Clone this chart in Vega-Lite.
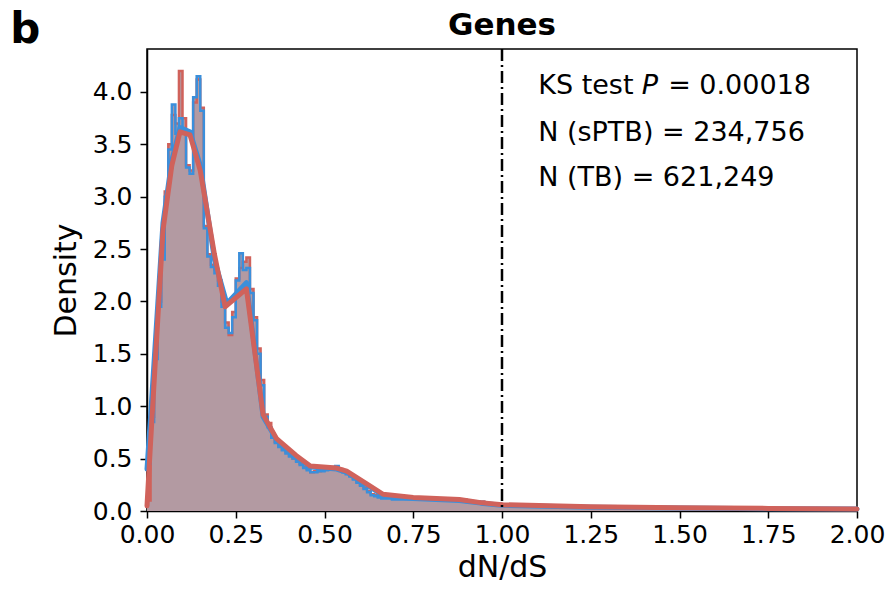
{
  "$schema": "https://vega.github.io/schema/vega-lite/v6.json",
  "autosize": "none",
  "width": 710,
  "height": 462,
  "padding": {"left": 147, "top": 49, "right": 31, "bottom": 79},
  "background": "white",
  "config": {
    "font": "DejaVu Sans",
    "view": {"stroke": "black", "strokeWidth": 1.5},
    "axis": {"grid": false, "labelFontSize": 25, "titleFontSize": 30, "titleFontWeight": "normal", "labelColor": "black", "titleColor": "black", "domainColor": "black", "tickColor": "black", "domainWidth": 1.5, "tickWidth": 1.5, "tickSize": 7, "labelFont": "DejaVu Sans", "titleFont": "DejaVu Sans", "labelFlush": false, "labelOverlap": false}
  },
  "datasets": {
    "hist": [
      {"x":0.00,"s":"TB","d":0.1},{"x":0.01,"s":"TB","d":0.9},{"x":0.02,"s":"TB","d":1.5},{"x":0.03,"s":"TB","d":2.0},{"x":0.04,"s":"TB","d":2.45},{"x":0.05,"s":"TB","d":3.05},{"x":0.06,"s":"TB","d":3.5},{"x":0.07,"s":"TB","d":3.78},{"x":0.08,"s":"TB","d":3.7},{"x":0.09,"s":"TB","d":4.2},
      {"x":0.10,"s":"TB","d":3.75},{"x":0.11,"s":"TB","d":3.3},{"x":0.12,"s":"TB","d":3.25},{"x":0.13,"s":"TB","d":3.9},{"x":0.14,"s":"TB","d":4.12},{"x":0.15,"s":"TB","d":3.85},{"x":0.16,"s":"TB","d":2.72},{"x":0.17,"s":"TB","d":2.45},{"x":0.18,"s":"TB","d":2.35},{"x":0.19,"s":"TB","d":2.3},
      {"x":0.20,"s":"TB","d":2.2},{"x":0.21,"s":"TB","d":2.0},{"x":0.22,"s":"TB","d":1.8},{"x":0.23,"s":"TB","d":1.68},{"x":0.24,"s":"TB","d":1.9},{"x":0.25,"s":"TB","d":2.22},{"x":0.26,"s":"TB","d":2.32},{"x":0.27,"s":"TB","d":2.38},{"x":0.28,"s":"TB","d":2.42},{"x":0.29,"s":"TB","d":2.12},
      {"x":0.30,"s":"TB","d":1.85},{"x":0.31,"s":"TB","d":1.55},{"x":0.32,"s":"TB","d":1.25},{"x":0.33,"s":"TB","d":0.92},{"x":0.34,"s":"TB","d":0.84},{"x":0.35,"s":"TB","d":0.72},{"x":0.36,"s":"TB","d":0.66},{"x":0.37,"s":"TB","d":0.62},{"x":0.38,"s":"TB","d":0.59},{"x":0.39,"s":"TB","d":0.56},
      {"x":0.40,"s":"TB","d":0.53},{"x":0.41,"s":"TB","d":0.5},{"x":0.42,"s":"TB","d":0.48},{"x":0.43,"s":"TB","d":0.45},{"x":0.44,"s":"TB","d":0.42},{"x":0.45,"s":"TB","d":0.4},{"x":0.46,"s":"TB","d":0.37},{"x":0.47,"s":"TB","d":0.38},{"x":0.48,"s":"TB","d":0.38},{"x":0.49,"s":"TB","d":0.39},
      {"x":0.50,"s":"TB","d":0.4},{"x":0.51,"s":"TB","d":0.4},{"x":0.52,"s":"TB","d":0.41},{"x":0.53,"s":"TB","d":0.41},{"x":0.54,"s":"TB","d":0.4},{"x":0.55,"s":"TB","d":0.39},{"x":0.56,"s":"TB","d":0.37},{"x":0.57,"s":"TB","d":0.34},{"x":0.58,"s":"TB","d":0.31},{"x":0.59,"s":"TB","d":0.28},
      {"x":0.60,"s":"TB","d":0.25},{"x":0.61,"s":"TB","d":0.22},{"x":0.62,"s":"TB","d":0.19},{"x":0.63,"s":"TB","d":0.16},{"x":0.64,"s":"TB","d":0.15},{"x":0.65,"s":"TB","d":0.14},{"x":0.66,"s":"TB","d":0.13},{"x":0.67,"s":"TB","d":0.13},{"x":0.68,"s":"TB","d":0.13},{"x":0.69,"s":"TB","d":0.12},
      {"x":0.70,"s":"TB","d":0.12},{"x":0.75,"s":"TB","d":0.12},{"x":0.80,"s":"TB","d":0.12},{"x":0.85,"s":"TB","d":0.11},{"x":0.90,"s":"TB","d":0.09},{"x":0.95,"s":"TB","d":0.07},{"x":1.00,"s":"TB","d":0.055},{"x":1.05,"s":"TB","d":0.05},{"x":1.10,"s":"TB","d":0.045},{"x":1.15,"s":"TB","d":0.042},
      {"x":1.20,"s":"TB","d":0.04},{"x":1.25,"s":"TB","d":0.038},{"x":1.30,"s":"TB","d":0.035},{"x":1.35,"s":"TB","d":0.033},{"x":1.40,"s":"TB","d":0.031},{"x":1.45,"s":"TB","d":0.03},{"x":1.50,"s":"TB","d":0.029},{"x":1.55,"s":"TB","d":0.028},{"x":1.60,"s":"TB","d":0.027},{"x":1.65,"s":"TB","d":0.026},
      {"x":1.70,"s":"TB","d":0.025},{"x":1.75,"s":"TB","d":0.024},{"x":1.80,"s":"TB","d":0.023},{"x":1.85,"s":"TB","d":0.022},{"x":1.90,"s":"TB","d":0.021},{"x":1.95,"s":"TB","d":0.02},{"x":2.00,"s":"TB","d":0.02},
      {"x":0.00,"s":"sPTB","d":0.45},{"x":0.01,"s":"sPTB","d":0.85},{"x":0.02,"s":"sPTB","d":1.45},{"x":0.03,"s":"sPTB","d":1.95},{"x":0.04,"s":"sPTB","d":2.4},{"x":0.05,"s":"sPTB","d":3.0},{"x":0.06,"s":"sPTB","d":3.45},{"x":0.07,"s":"sPTB","d":3.88},{"x":0.08,"s":"sPTB","d":3.6},{"x":0.09,"s":"sPTB","d":3.75},
      {"x":0.10,"s":"sPTB","d":3.6},{"x":0.11,"s":"sPTB","d":3.28},{"x":0.12,"s":"sPTB","d":3.22},{"x":0.13,"s":"sPTB","d":3.95},{"x":0.14,"s":"sPTB","d":4.15},{"x":0.15,"s":"sPTB","d":3.82},{"x":0.16,"s":"sPTB","d":2.7},{"x":0.17,"s":"sPTB","d":2.43},{"x":0.18,"s":"sPTB","d":2.33},{"x":0.19,"s":"sPTB","d":2.27},
      {"x":0.20,"s":"sPTB","d":2.15},{"x":0.21,"s":"sPTB","d":1.95},{"x":0.22,"s":"sPTB","d":1.75},{"x":0.23,"s":"sPTB","d":1.7},{"x":0.24,"s":"sPTB","d":1.85},{"x":0.25,"s":"sPTB","d":2.2},{"x":0.26,"s":"sPTB","d":2.46},{"x":0.27,"s":"sPTB","d":2.3},{"x":0.28,"s":"sPTB","d":2.32},{"x":0.29,"s":"sPTB","d":2.08},
      {"x":0.30,"s":"sPTB","d":1.82},{"x":0.31,"s":"sPTB","d":1.5},{"x":0.32,"s":"sPTB","d":1.2},{"x":0.33,"s":"sPTB","d":0.9},{"x":0.34,"s":"sPTB","d":0.8},{"x":0.35,"s":"sPTB","d":0.7},{"x":0.36,"s":"sPTB","d":0.65},{"x":0.37,"s":"sPTB","d":0.61},{"x":0.38,"s":"sPTB","d":0.58},{"x":0.39,"s":"sPTB","d":0.55},
      {"x":0.40,"s":"sPTB","d":0.52},{"x":0.41,"s":"sPTB","d":0.5},{"x":0.42,"s":"sPTB","d":0.47},{"x":0.43,"s":"sPTB","d":0.44},{"x":0.44,"s":"sPTB","d":0.41},{"x":0.45,"s":"sPTB","d":0.39},{"x":0.46,"s":"sPTB","d":0.37},{"x":0.47,"s":"sPTB","d":0.37},{"x":0.48,"s":"sPTB","d":0.38},{"x":0.49,"s":"sPTB","d":0.38},
      {"x":0.50,"s":"sPTB","d":0.39},{"x":0.51,"s":"sPTB","d":0.4},{"x":0.52,"s":"sPTB","d":0.42},{"x":0.53,"s":"sPTB","d":0.43},{"x":0.54,"s":"sPTB","d":0.39},{"x":0.55,"s":"sPTB","d":0.37},{"x":0.56,"s":"sPTB","d":0.35},{"x":0.57,"s":"sPTB","d":0.33},{"x":0.58,"s":"sPTB","d":0.3},{"x":0.59,"s":"sPTB","d":0.27},
      {"x":0.60,"s":"sPTB","d":0.24},{"x":0.61,"s":"sPTB","d":0.21},{"x":0.62,"s":"sPTB","d":0.18},{"x":0.63,"s":"sPTB","d":0.15},{"x":0.64,"s":"sPTB","d":0.14},{"x":0.65,"s":"sPTB","d":0.13},{"x":0.66,"s":"sPTB","d":0.12},{"x":0.67,"s":"sPTB","d":0.12},{"x":0.68,"s":"sPTB","d":0.12},{"x":0.69,"s":"sPTB","d":0.11},
      {"x":0.70,"s":"sPTB","d":0.11},{"x":0.75,"s":"sPTB","d":0.11},{"x":0.80,"s":"sPTB","d":0.11},{"x":0.85,"s":"sPTB","d":0.1},{"x":0.90,"s":"sPTB","d":0.085},{"x":0.95,"s":"sPTB","d":0.065},{"x":1.00,"s":"sPTB","d":0.05},{"x":1.05,"s":"sPTB","d":0.047},{"x":1.10,"s":"sPTB","d":0.043},{"x":1.15,"s":"sPTB","d":0.04},
      {"x":1.20,"s":"sPTB","d":0.038},{"x":1.25,"s":"sPTB","d":0.036},{"x":1.30,"s":"sPTB","d":0.034},{"x":1.35,"s":"sPTB","d":0.032},{"x":1.40,"s":"sPTB","d":0.03},{"x":1.45,"s":"sPTB","d":0.029},{"x":1.50,"s":"sPTB","d":0.028},{"x":1.55,"s":"sPTB","d":0.027},{"x":1.60,"s":"sPTB","d":0.026},{"x":1.65,"s":"sPTB","d":0.025},
      {"x":1.70,"s":"sPTB","d":0.024},{"x":1.75,"s":"sPTB","d":0.023},{"x":1.80,"s":"sPTB","d":0.022},{"x":1.85,"s":"sPTB","d":0.021},{"x":1.90,"s":"sPTB","d":0.02},{"x":1.95,"s":"sPTB","d":0.019},{"x":2.00,"s":"sPTB","d":0.019}
    ],
    "kde": [
      {"x":0,"s":"sPTB","d":0.4},{"x":0.01,"s":"sPTB","d":0.9},{"x":0.045,"s":"sPTB","d":2.75},{"x":0.07,"s":"sPTB","d":3.35},{"x":0.093,"s":"sPTB","d":3.66},{"x":0.121,"s":"sPTB","d":3.62},{"x":0.15,"s":"sPTB","d":3.3},{"x":0.19,"s":"sPTB","d":2.4},{"x":0.225,"s":"sPTB","d":1.98},{"x":0.28,"s":"sPTB","d":2.18},{"x":0.327,"s":"sPTB","d":0.9},{"x":0.365,"s":"sPTB","d":0.68},{"x":0.42,"s":"sPTB","d":0.52},{"x":0.46,"s":"sPTB","d":0.42},{"x":0.534,"s":"sPTB","d":0.4},{"x":0.5625,"s":"sPTB","d":0.37},{"x":0.619,"s":"sPTB","d":0.25},{"x":0.665,"s":"sPTB","d":0.15},{"x":0.75,"s":"sPTB","d":0.12},{"x":0.88,"s":"sPTB","d":0.1},{"x":0.94,"s":"sPTB","d":0.075},{"x":1.0,"s":"sPTB","d":0.055},{"x":1.25,"s":"sPTB","d":0.035},{"x":1.5,"s":"sPTB","d":0.028},{"x":1.75,"s":"sPTB","d":0.022},{"x":2.0,"s":"sPTB","d":0.018},
      {"x":0,"s":"TB","d":0.05},{"x":0.01,"s":"TB","d":0.65},{"x":0.045,"s":"TB","d":2.68},{"x":0.07,"s":"TB","d":3.3},{"x":0.093,"s":"TB","d":3.62},{"x":0.121,"s":"TB","d":3.59},{"x":0.15,"s":"TB","d":3.25},{"x":0.19,"s":"TB","d":2.45},{"x":0.22,"s":"TB","d":1.95},{"x":0.28,"s":"TB","d":2.12},{"x":0.327,"s":"TB","d":0.92},{"x":0.365,"s":"TB","d":0.69},{"x":0.42,"s":"TB","d":0.53},{"x":0.46,"s":"TB","d":0.43},{"x":0.534,"s":"TB","d":0.41},{"x":0.5625,"s":"TB","d":0.38},{"x":0.619,"s":"TB","d":0.26},{"x":0.665,"s":"TB","d":0.16},{"x":0.75,"s":"TB","d":0.13},{"x":0.88,"s":"TB","d":0.11},{"x":0.94,"s":"TB","d":0.08},{"x":1.0,"s":"TB","d":0.06},{"x":1.25,"s":"TB","d":0.04},{"x":1.5,"s":"TB","d":0.03},{"x":1.75,"s":"TB","d":0.025},{"x":2.0,"s":"TB","d":0.02}
    ],
    "one": [{}]
  },
  "layer": [
    {
      "data": {"name": "hist"},
      "mark": {"type": "area", "interpolate": "step-after", "color": "#b39aa2", "opacity": 1},
      "encoding": {
        "x": {"field": "x", "type": "quantitative", "scale": {"domain": [0, 2], "nice": false, "zero": false}, "axis": {"values": [0, 0.25, 0.5, 0.75, 1, 1.25, 1.5, 1.75, 2], "format": ".2f", "title": "dN/dS", "labelPadding": 4, "titlePadding": 5}},
        "y": {"field": "d", "type": "quantitative", "stack": null, "scale": {"domain": [0, 4.41], "nice": false}, "axis": {"values": [0, 0.5, 1, 1.5, 2, 2.5, 3, 3.5, 4], "format": ".1f", "title": "Density", "labelPadding": 8, "titlePadding": 11}},
        "detail": {"field": "s"}
      }
    },
    {
      "data": {"name": "hist"},
      "mark": {"type": "line", "interpolate": "step-after", "strokeWidth": 2.5},
      "encoding": {
        "x": {"field": "x", "type": "quantitative", "scale": {"domain": [0, 2], "nice": false, "zero": false}},
        "y": {"field": "d", "type": "quantitative", "scale": {"domain": [0, 4.41], "nice": false}},
        "color": {"field": "s", "type": "nominal", "scale": {"domain": ["sPTB", "TB"], "range": ["#3b8fdb", "#d0625b"]}, "legend": null},
        "order": {"field": "x", "type": "quantitative"}
      }
    },
    {
      "data": {"name": "kde"},
      "mark": {"type": "line", "strokeWidth": 5, "strokeJoin": "round", "strokeCap": "round"},
      "encoding": {
        "x": {"field": "x", "type": "quantitative", "scale": {"domain": [0, 2], "nice": false, "zero": false}},
        "y": {"field": "d", "type": "quantitative", "scale": {"domain": [0, 4.41], "nice": false}},
        "color": {"field": "s", "type": "nominal", "scale": {"domain": ["sPTB", "TB"], "range": ["#3b8fdb", "#d0625b"]}, "legend": null}
      }
    },
    {
      "data": {"name": "one"},
      "mark": {"type": "rule", "color": "black", "strokeWidth": 2.5, "strokeDash": [12, 4, 2, 4]},
      "encoding": {"x": {"datum": 1, "type": "quantitative", "scale": {"domain": [0, 2], "nice": false, "zero": false}}}
    },
    {
      "data": {"name": "one"},
      "mark": {"type": "text", "text": "KS test", "align": "left", "baseline": "middle", "fontSize": 27, "color": "black"},
      "encoding": {"x": {"datum": 1.102, "type": "quantitative", "scale": {"domain": [0, 2], "nice": false, "zero": false}}, "y": {"datum": 4.057, "type": "quantitative", "scale": {"domain": [0, 4.41], "nice": false}}}
    },
    {
      "data": {"name": "one"},
      "mark": {"type": "text", "text": "P", "align": "left", "baseline": "middle", "fontSize": 27, "fontStyle": "italic", "color": "black"},
      "encoding": {"x": {"datum": 1.394, "type": "quantitative", "scale": {"domain": [0, 2], "nice": false, "zero": false}}, "y": {"datum": 4.057, "type": "quantitative", "scale": {"domain": [0, 4.41], "nice": false}}}
    },
    {
      "data": {"name": "one"},
      "mark": {"type": "text", "text": "= 0.00018", "align": "left", "baseline": "middle", "fontSize": 27, "color": "black"},
      "encoding": {"x": {"datum": 1.468, "type": "quantitative", "scale": {"domain": [0, 2], "nice": false, "zero": false}}, "y": {"datum": 4.057, "type": "quantitative", "scale": {"domain": [0, 4.41], "nice": false}}}
    },
    {
      "data": {"name": "one"},
      "mark": {"type": "text", "text": "N (sPTB) = 234,756", "align": "left", "baseline": "middle", "fontSize": 27, "color": "black"},
      "encoding": {"x": {"datum": 1.102, "type": "quantitative", "scale": {"domain": [0, 2], "nice": false, "zero": false}}, "y": {"datum": 3.61, "type": "quantitative", "scale": {"domain": [0, 4.41], "nice": false}}}
    },
    {
      "data": {"name": "one"},
      "mark": {"type": "text", "text": "N (TB) = 621,249", "align": "left", "baseline": "middle", "fontSize": 27, "color": "black"},
      "encoding": {"x": {"datum": 1.102, "type": "quantitative", "scale": {"domain": [0, 2], "nice": false, "zero": false}}, "y": {"datum": 3.18, "type": "quantitative", "scale": {"domain": [0, 4.41], "nice": false}}}
    },
    {
      "data": {"name": "one"},
      "mark": {"type": "text", "text": "Genes", "align": "center", "baseline": "alphabetic", "fontSize": 31, "fontWeight": "bold", "color": "black"},
      "encoding": {"x": {"datum": 1.0, "type": "quantitative", "scale": {"domain": [0, 2], "nice": false, "zero": false}}, "y": {"datum": 4.545, "type": "quantitative", "scale": {"domain": [0, 4.41], "nice": false}}}
    },
    {
      "data": {"name": "one"},
      "mark": {"type": "text", "text": "b", "align": "left", "baseline": "alphabetic", "fontSize": 42, "fontWeight": "bold", "color": "black"},
      "encoding": {"x": {"datum": -0.385, "type": "quantitative", "scale": {"domain": [0, 2], "nice": false, "zero": false}}, "y": {"datum": 4.47, "type": "quantitative", "scale": {"domain": [0, 4.41], "nice": false}}}
    }
  ]
}
